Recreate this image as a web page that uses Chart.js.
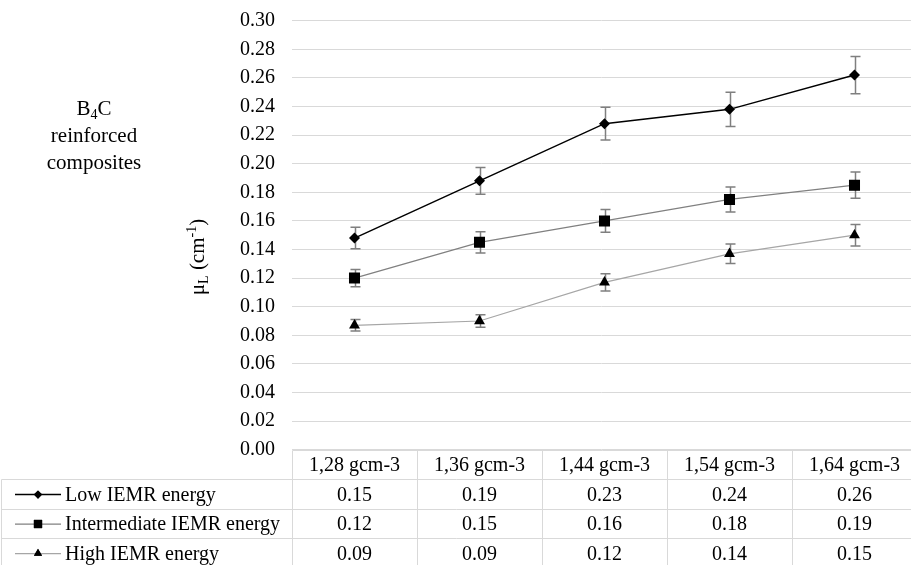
<!DOCTYPE html>
<html><head><meta charset="utf-8">
<script src="https://cdn.jsdelivr.net/npm/chart.js@4"></script>
<style>
html,body{margin:0;padding:0;background:#fff;overflow:hidden;width:911px;height:565px}
canvas{display:block}
</style>
</head><body><canvas id="c" width="911" height="565"></canvas>
<script>
const categories = ['1,28 gcm-3','1,36 gcm-3','1,44 gcm-3','1,54 gcm-3','1,64 gcm-3'];
const seriesNames = ['Low IEMR energy','Intermediate IEMR energy','High IEMR energy'];
const lowValues = [0.148, 0.188, 0.228, 0.238, 0.262];
const lowErrors = [0.0075, 0.0094, 0.0115, 0.012, 0.013];
const interValues = [0.120, 0.145, 0.160, 0.175, 0.185];
const interErrors = [0.006, 0.0075, 0.008, 0.0087, 0.0092];
const highValues = [0.087, 0.090, 0.117, 0.137, 0.150];
const highErrors = [0.004, 0.0043, 0.006, 0.0068, 0.0075];
const lowTable = ['0.15','0.19','0.23','0.24','0.26'];
const interTable = ['0.12','0.15','0.16','0.18','0.19'];
const highTable = ['0.09','0.09','0.12','0.14','0.15'];
const yMin = 0, yMax = 0.30, yStep = 0.02;
// category axis: index range shown (last column is cut by the picture's right edge)
const xMin = -0.5, xMax = 4.452;

const FONT = '"Liberation Serif", "Times New Roman", serif';
const errorSets = [lowErrors, interErrors, highErrors];
const tableSets = [lowTable, interTable, highTable];
const toPoints = arr => arr.map((v, i) => ({x: i, y: v}));

const errorBarPlugin = {
  id: 'errbars',
  beforeDatasetsDraw(chart) {
    const ctx = chart.ctx, xs = chart.scales.x, ys = chart.scales.y;
    ctx.save();
    ctx.strokeStyle = '#7f7f7f';
    ctx.lineWidth = 1.5;
    chart.data.datasets.forEach((ds, i) => {
      ds.data.forEach((p, j) => {
        const e = errorSets[i][j];
        const px = Math.round(xs.getPixelForValue(p.x)) + 0.5;
        const y1 = ys.getPixelForValue(p.y + e), y2 = ys.getPixelForValue(p.y - e);
        ctx.beginPath();
        ctx.moveTo(px, y1); ctx.lineTo(px, y2);
        ctx.moveTo(px - 5, y1); ctx.lineTo(px + 5, y1);
        ctx.moveTo(px - 5, y2); ctx.lineTo(px + 5, y2);
        ctx.stroke();
      });
    });
    ctx.restore();
  }
};

const tablePlugin = {
  id: 'datatable',
  afterDraw(chart) {
    const ctx = chart.ctx, xs = chart.scales.x;
    const n = categories.length;
    const edge = k => Math.round(xs.getPixelForValue(k - 0.5)) + 0.5;
    const left = edge(0), right = edge(n);
    const rows = [450.5, 479.5, 509.5, 538.5, 568.5];
    ctx.save();
    ctx.strokeStyle = '#d9d9d9';
    ctx.lineWidth = 1;
    ctx.beginPath();
    ctx.moveTo(left, rows[0]); ctx.lineTo(right, rows[0]);
    for (let r = 1; r < rows.length; r++) { ctx.moveTo(1.5, rows[r]); ctx.lineTo(right, rows[r]); }
    for (let k = 0; k <= n; k++) {
      const vx = edge(k);
      ctx.moveTo(vx, rows[0]); ctx.lineTo(vx, 565);
    }
    ctx.moveTo(1.5, rows[1]); ctx.lineTo(1.5, 565);
    ctx.stroke();

    ctx.fillStyle = '#000';
    ctx.font = '20px ' + FONT;
    ctx.textAlign = 'center';
    ctx.textBaseline = 'middle';
    categories.forEach((c, j) => ctx.fillText(c, xs.getPixelForValue(j), (rows[0] + rows[1]) / 2 + 1));
    tableSets.forEach((vals, i) => {
      const cy = (rows[i + 1] + rows[i + 2]) / 2 + 1;
      vals.forEach((v, j) => ctx.fillText(v, xs.getPixelForValue(j), cy));
    });
    // legend keys
    chart.data.datasets.forEach((ds, i) => {
      const cy = (rows[i + 1] + rows[i + 2]) / 2;
      ctx.strokeStyle = ds.borderColor;
      ctx.lineWidth = ds.borderWidth;
      ctx.beginPath(); ctx.moveTo(15, cy); ctx.lineTo(61, cy); ctx.stroke();
      ctx.fillStyle = '#000';
      Chart.helpers.drawPoint(ctx, {pointStyle: ds.pointStyle, radius: ds.pointRadius * 0.75, borderWidth: 0}, 38, cy);
      ctx.fill();
      ctx.textAlign = 'left';
      ctx.fillStyle = '#000';
      ctx.fillText(seriesNames[i], 65, cy + 1);
    });
    ctx.restore();

    // y-axis title
    ctx.save();
    ctx.translate(197, 257);
    ctx.rotate(-Math.PI / 2);
    ctx.fillStyle = '#000';
    ctx.textBaseline = 'alphabetic';
    ctx.textAlign = 'left';
    const parts = [['μ', 21, 0], ['L', 14, 4], [' (cm', 21, 0], ['-1', 14, -8], [')', 21, 0]];
    let total = 0;
    parts.forEach(p => { ctx.font = p[1] + 'px ' + FONT; total += ctx.measureText(p[0]).width; });
    let cx = -total / 2;
    parts.forEach(p => { ctx.font = p[1] + 'px ' + FONT; ctx.fillText(p[0], cx, 7 + p[2]); cx += ctx.measureText(p[0]).width; });
    ctx.restore();

    // left caption
    ctx.save();
    ctx.fillStyle = '#000';
    ctx.textBaseline = 'alphabetic';
    ctx.textAlign = 'left';
    const bParts = [['B', 21, 0], ['4', 14, 4], ['C', 21, 0]];
    let bw2 = 0;
    bParts.forEach(p => { ctx.font = p[1] + 'px ' + FONT; bw2 += ctx.measureText(p[0]).width; });
    let bx = 94 - bw2 / 2;
    bParts.forEach(p => { ctx.font = p[1] + 'px ' + FONT; ctx.fillText(p[0], bx, 115 + p[2]); bx += ctx.measureText(p[0]).width; });
    ctx.font = '21px ' + FONT;
    ctx.textAlign = 'center';
    ctx.fillText('reinforced', 94, 142);
    ctx.fillText('composites', 94, 169);
    ctx.restore();
  }
};

new Chart(document.getElementById('c'), {
  type: 'line',
  data: {
    datasets: [
      {label: seriesNames[0], data: toPoints(lowValues), borderColor: '#000000', borderWidth: 1.5, pointStyle: 'rectRot', pointRadius: 5.5, pointBackgroundColor: '#000', pointBorderWidth: 0, tension: 0},
      {label: seriesNames[1], data: toPoints(interValues), borderColor: '#808080', borderWidth: 1.25, pointStyle: 'rect', pointRadius: 7.8, pointBackgroundColor: '#000', pointBorderWidth: 0, tension: 0},
      {label: seriesNames[2], data: toPoints(highValues), borderColor: '#a6a6a6', borderWidth: 1.25, pointStyle: 'triangle', pointRadius: 6.3, pointBackgroundColor: '#000', pointBorderWidth: 0, tension: 0}
    ]
  },
  options: {
    responsive: false,
    animation: false,
    devicePixelRatio: 1,
    layout: {autoPadding: false, padding: {top: 20.7, bottom: 115.3, left: 0, right: 0}},
    plugins: {legend: {display: false}, tooltip: {enabled: false}},
    scales: {
      x: {type: 'linear', display: false, min: xMin, max: xMax,
          afterFit(scale) { scale.paddingLeft = 0; scale.paddingRight = 0; }},
      y: {
        min: yMin, max: yMax,
        afterFit(scale) { scale.width = 292; scale.paddingTop = 0; scale.paddingBottom = 0; },
        border: {display: false},
        grid: {color: '#d9d9d9', lineWidth: 1, drawTicks: false},
        ticks: {stepSize: yStep, padding: 17, color: '#000', font: {family: FONT, size: 20}, callback: v => v.toFixed(2)}
      }
    }
  },
  plugins: [errorBarPlugin, tablePlugin]
});
</script>
</body></html>
